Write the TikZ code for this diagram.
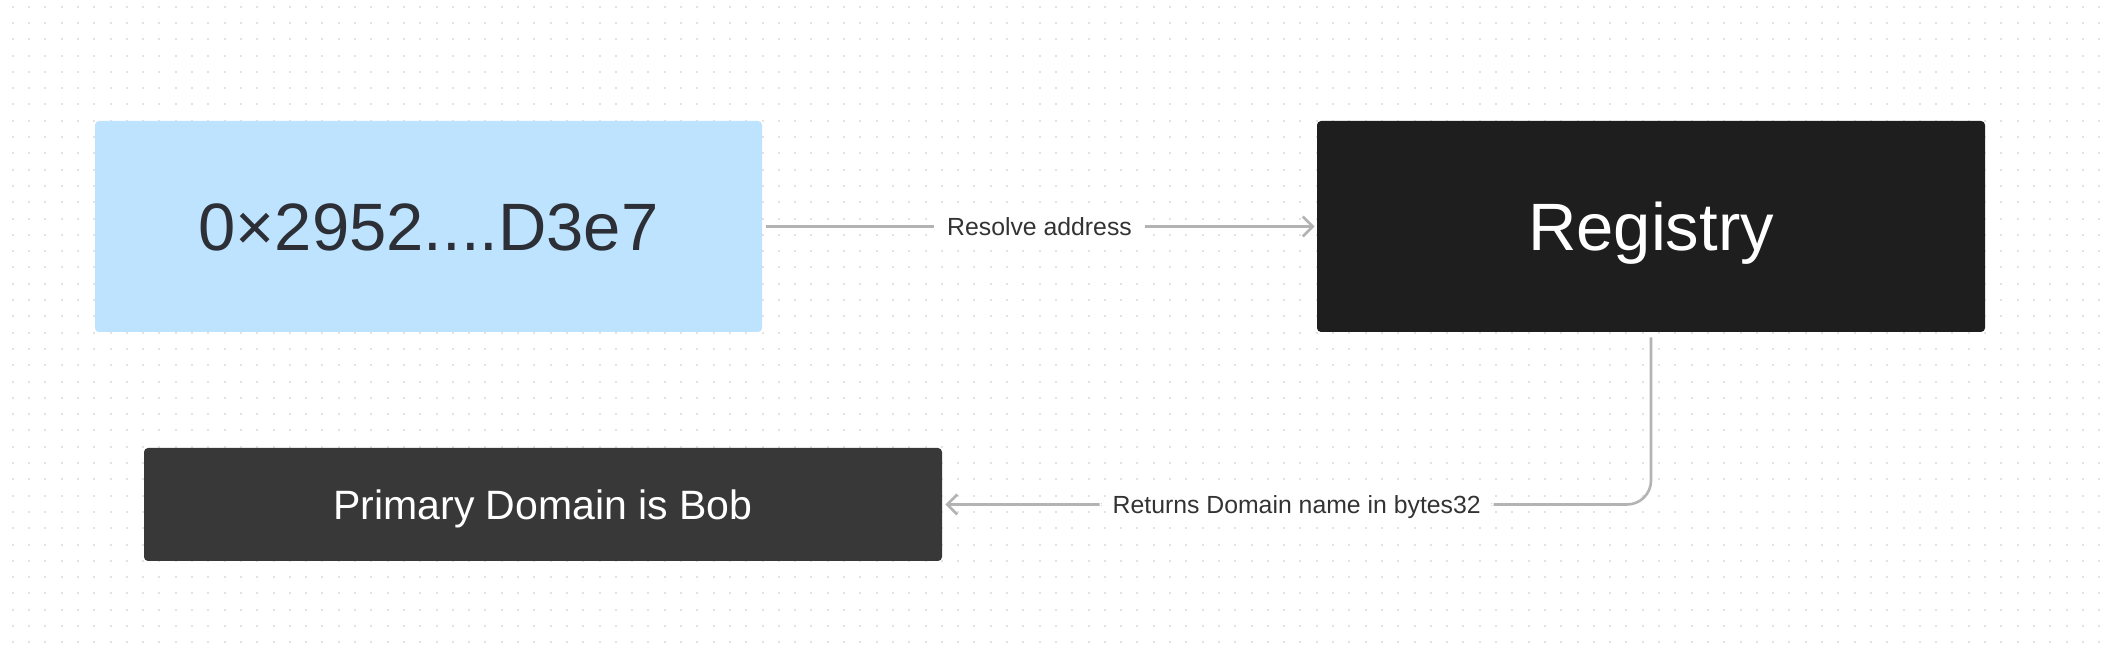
\documentclass[tikz,border=0pt]{standalone}
\usepackage{fontspec}
\setmainfont{Liberation Sans}
\definecolor{addrblue}{HTML}{BDE3FF}
\definecolor{regblack}{HTML}{1E1E1E}
\definecolor{primgrey}{HTML}{383838}
\definecolor{linkgrey}{HTML}{B3B3B3}
\definecolor{dotgrey}{HTML}{E2E2E2}
\definecolor{addrtext}{HTML}{2C2F36}
\definecolor{labeltext}{HTML}{333333}
\usetikzlibrary{arrows.meta, positioning}

\begin{document}
\begin{tikzpicture}[x = 1pt, y = 1pt,
	box/.style = {rectangle, rounded corners = 2pt, inner sep = 0pt, text depth = 0pt},
	bigtext/.style = {font = \fontsize{33.5}{36}\selectfont, text height = 24pt},
	link/.style = {draw = linkgrey, line width = 1.3pt, -{Straight Barb[length = 5pt, width = 10pt]}},
	linklabel/.style = {fill = white, inner xsep = 6.5pt, inner ysep = 3pt, text = labeltext, text height = 8.9pt, text depth = 0pt, font = \fontsize{12.4}{14}\selectfont}]
\fill[white] (0,0) rectangle (1054,328.5);
\useasboundingbox (0,0) rectangle (1054,328.5);
% dots
\foreach \i in {0,...,128}
	\foreach \j in {0,...,39}
		\fill[dotgrey] (5.85+8.15*\i, 324.65-8.15*\j) rectangle ++(1,1);

% boxes
\node[box, bigtext, fill = addrblue, text = addrtext, minimum width = 333.5pt, minimum height = 105.5pt] (addr) at (214.25,215.25) {0×2952....D3e7};
\node[box, bigtext, fill = regblack, text = white, minimum width = 334pt, minimum height = 105.5pt] (reg) at (825.5,215.25) {Registry};
\node[box, fill = primgrey, text = white, minimum width = 399pt, minimum height = 56.5pt, text height = 14.7pt, font = \fontsize{20.5}{24}\selectfont] (prim) at (271.5,76.25) {Primary Domain is Bob};

% links
\draw[link, shorten < = 2pt, shorten > = 1pt] (addr) -- node[linklabel] {Resolve address} (reg);
\draw[link, rounded corners = 12pt, shorten < = 2.5pt, shorten > = 1.5pt] (reg.south) |- node[linklabel, pos = 0.75] {Returns Domain name in bytes32} (prim.east);
\end{tikzpicture}
\end{document}
